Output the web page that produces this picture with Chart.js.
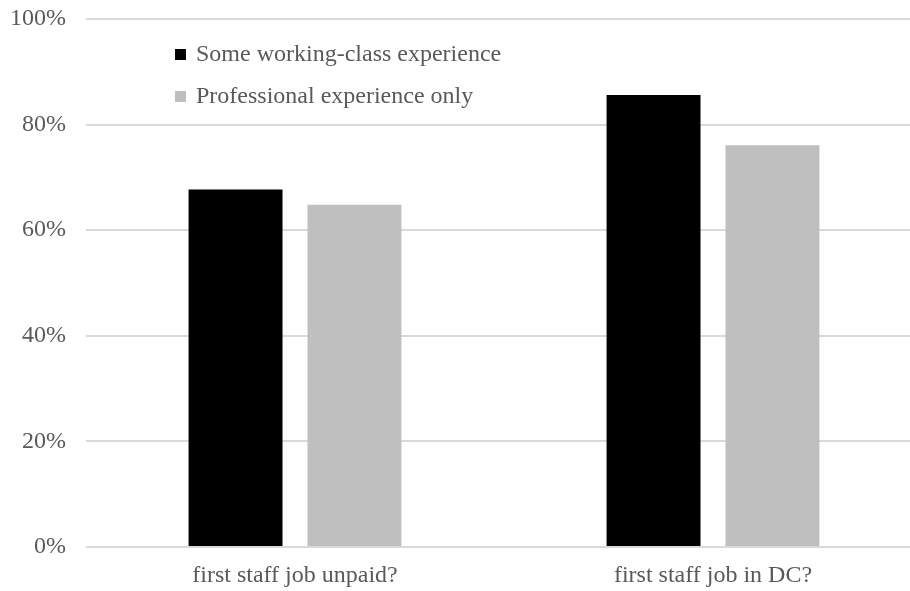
<!DOCTYPE html>
<html lang="en">
<head>
  <meta charset="UTF-8">
  <title>First staff job</title>
  <script src="https://cdn.jsdelivr.net/npm/chart.js"></script>
  <style>
    html, body { margin: 0; padding: 0; background: #fff; overflow: hidden; }
    #wrap { width: 910px; height: 591px; overflow: hidden; }
    canvas { display: block; }
  </style>
</head>
<body>
  <!-- canvas is a bit wider than the frame so the plot runs off the right edge -->
  <div id="wrap"><canvas id="chart" width="922" height="591"></canvas></div>

  <script>
    const categories = ['first staff job unpaid?', 'first staff job in DC?'];
    const workingClass = [67.7, 85.6];
    const professionalOnly = [64.8, 76.1];
    const yTicks = [0, 20, 40, 60, 80, 100];

    const FONT = '"Liberation Serif", "Times New Roman", serif';

    // legend drawn inside the plot area, top-left
    const insideLegend = {
      id: 'insideLegend',
      afterDraw(chart) {
        const ctx = chart.ctx;
        const area = chart.chartArea;
        const x = area.left + 89;
        let y = area.top + 35;
        ctx.save();
        ctx.font = '24px ' + FONT;
        ctx.textBaseline = 'middle';
        chart.data.datasets.forEach(ds => {
          ctx.fillStyle = ds.backgroundColor;
          ctx.fillRect(x, y - 5, 11, 11);
          ctx.fillStyle = '#595959';
          ctx.fillText(ds.label, x + 21, y + 1);
          y += 42;
        });
        ctx.restore();
      }
    };

    new Chart(document.getElementById('chart'), {
      type: 'bar',
      data: {
        labels: categories,
        datasets: [
          {
            label: 'Some working-class experience',
            data: workingClass,
            backgroundColor: '#000000',
            categoryPercentage: 0.569,
            barPercentage: 0.79
          },
          {
            label: 'Professional experience only',
            data: professionalOnly,
            backgroundColor: '#bfbfbf',
            categoryPercentage: 0.569,
            barPercentage: 0.79
          }
        ]
      },
      options: {
        responsive: false,
        animation: false,
        layout: { padding: { top: 19, right: 0, left: 0, bottom: 0 } },
        plugins: {
          legend: { display: false },
          tooltip: { enabled: false }
        },
        scales: {
          x: {
            grid: { display: false },
            border: { display: false },
            ticks: {
              color: '#595959',
              font: { family: FONT, size: 24 },
              padding: 6,
              maxRotation: 0
            },
            afterFit(scale) {
              scale.height = 44;
              scale.paddingLeft = 0;
              scale.paddingRight = 0;
            }
          },
          y: {
            min: 0,
            max: 100,
            afterBuildTicks(scale) {
              scale.ticks = yTicks.map(v => ({ value: v }));
            },
            grid: { color: '#d9d9d9', lineWidth: 2, drawTicks: false },
            border: { display: false },
            ticks: {
              color: '#595959',
              font: { family: FONT, size: 24 },
              padding: 20,
              callback: v => v + '%'
            },
            afterFit(scale) {
              scale.width = 86;
              scale.paddingTop = 0;
              scale.paddingBottom = 0;
            }
          }
        }
      },
      plugins: [insideLegend]
    });
  </script>
</body>
</html>
